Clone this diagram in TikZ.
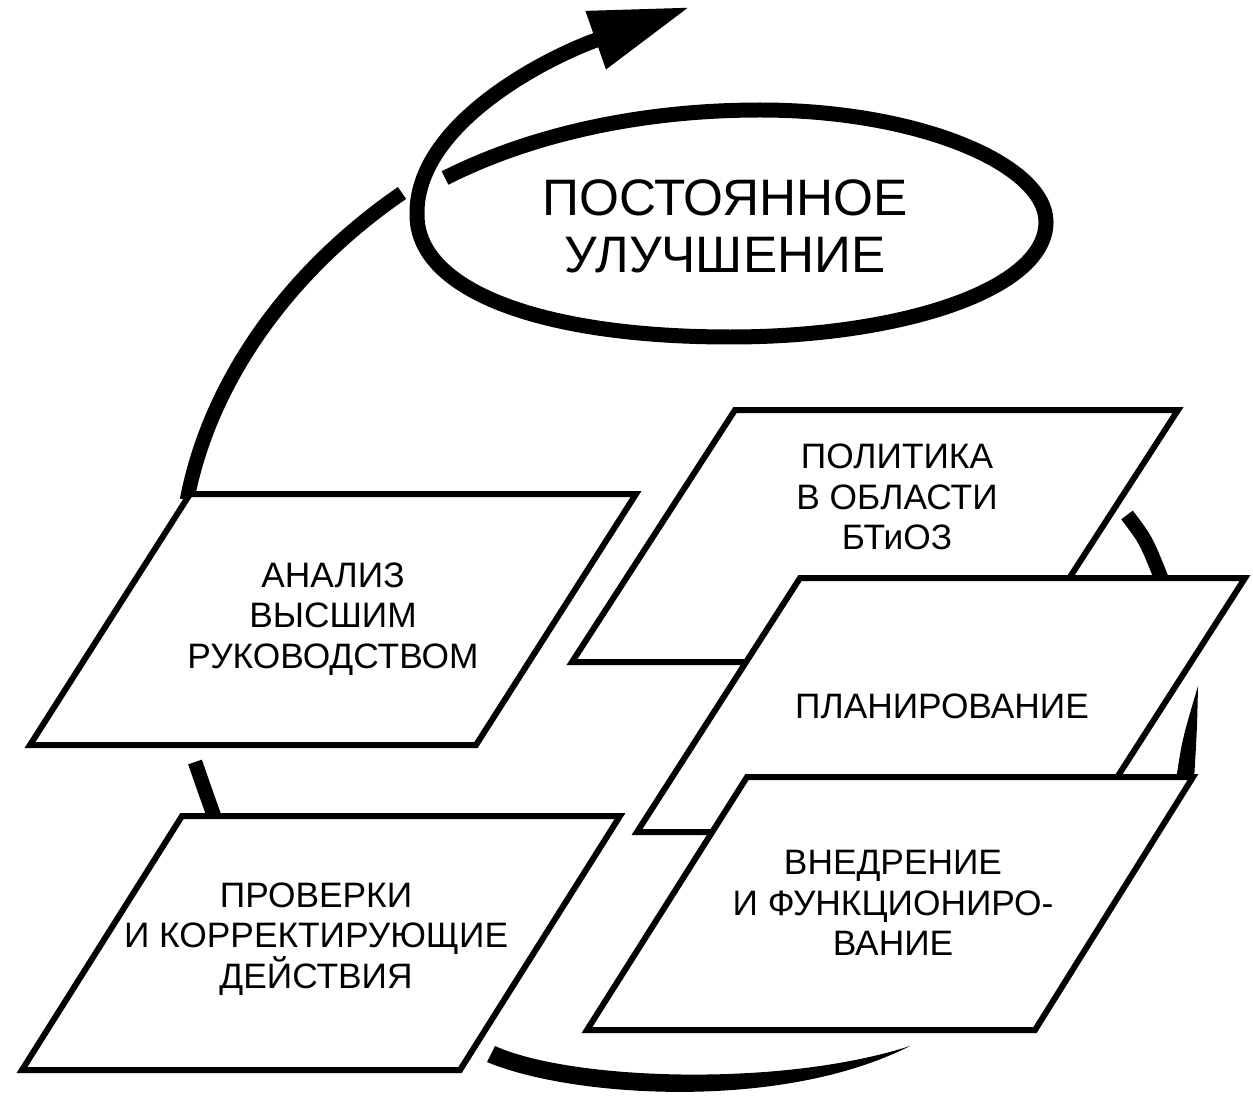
\documentclass[tikz,border=0pt]{standalone}
\usepackage{fontspec}
\setmainfont{Liberation Sans}
\usetikzlibrary{arrows.meta}
\begin{document}
\begin{tikzpicture}[x=0.02cm,y=-0.02cm,
  arcline/.style={line width=0.29cm, line cap=butt},
  box/.style={draw, line width=0.12cm, fill=white, line join=miter},
  boxtext/.style={align=center, font=\fontsize{20.1pt}{23pt}\selectfont, inner sep=0pt},
  titletext/.style={align=center, font=\fontsize{29.2pt}{32.4pt}\selectfont, inner sep=0pt}]
\useasboundingbox (0,0) rectangle (1253,1101);
% cycle arcs (behind the boxes)
\draw[arcline] (402,193) .. controls (290,270) and (210,380) .. (187,500);
\draw[arcline] (195,762) .. controls (203,785) .. (214,816);
\fill (487,1062) .. controls (570,1097) and (780,1112) .. (910,1046)
      .. controls (780,1088) and (570,1080) .. (495,1046) -- cycle;
\draw[arcline] (1127,515) .. controls (1146,540) .. (1162,580);
\fill (1198,686) .. controls (1197,730) .. (1194,780) -- (1176,780)
      .. controls (1182,740) .. (1198,686) -- cycle;
% spiral ellipse with arrow
\draw[line width=0.3cm, -{Triangle[length=2cm,width=1.15cm]}]
  (445,178) .. controls (530,135) and (640,110) .. (760,110)
  .. controls (920,110) and (1046,165) .. (1046,222)
  .. controls (1046,290) and (900,337) .. (730,337)
  .. controls (540,337) and (417,290) .. (417,215)
  .. controls (415,125) and (545,58) .. (690,7);
% boxes
\draw[box] (190,494) -- (636,494) -- (476,745) -- (30,745) -- cycle;
\draw[box] (182,816) -- (620,816) -- (460,1070) -- (22,1070) -- cycle;
\draw[box] (735,410) -- (1178,410) -- (1015,662) -- (572,662) -- cycle;
\draw[box] (800,578) -- (1245,578) -- (1082,832) -- (637,832) -- cycle;
\draw[box] (747,777) -- (1193,777) -- (1035,1030) -- (587,1030) -- cycle;
% texts
\node[titletext] (title) at (725,226) {ПОСТОЯННОЕ\\УЛУЧШЕНИЕ};
\node[boxtext] (policy) at (897,497) {ПОЛИТИКА\\В ОБЛАСТИ\\БТиОЗ};
\node[boxtext] (plan) at (942,706) {ПЛАНИРОВАНИЕ};
\node[boxtext] (impl) at (893,903) {ВНЕДРЕНИЕ\\И ФУНКЦИОНИРО-\\ВАНИЕ};
\node[boxtext] (review) at (333,619) {АНАЛИЗ\\ВЫСШИМ\\РУКОВОДСТВОМ};
\node[boxtext] (check) at (316,939) {ПРОВЕРКИ\\И КОРРЕКТИРУЮЩИЕ\\ДЕЙСТВИЯ};
\end{tikzpicture}
\end{document}
